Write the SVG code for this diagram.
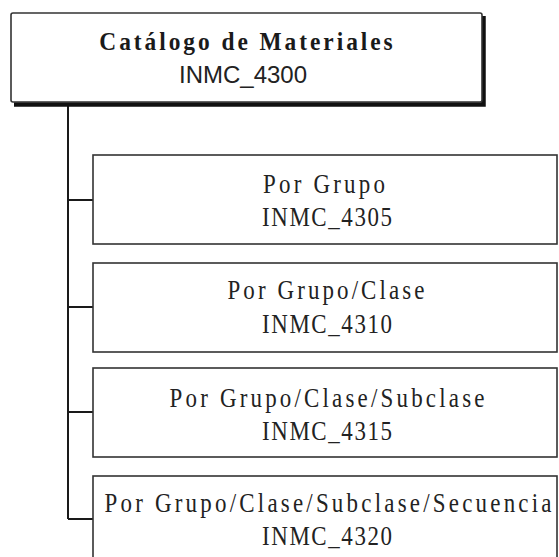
<svg xmlns="http://www.w3.org/2000/svg" width="559" height="557" viewBox="0 0 559 557">
<style>
.box{fill:#fff;stroke:#333;stroke-width:1.6}
.conn{fill:none;stroke:#1a1a1a;stroke-width:2}
.t{font-family:"Liberation Serif","Times New Roman",serif;font-size:27px;fill:#222;text-anchor:middle}
.title{font-family:"Liberation Serif","Times New Roman",serif;font-size:26px;font-weight:bold;fill:#1a1a1a;text-anchor:middle}
.code{font-family:"Liberation Sans",Arial,sans-serif;font-size:24px;fill:#222;text-anchor:middle}
</style>
<rect width="559" height="557" fill="#fff"/>
<g id="connectors">
<path class="conn" d="M68 104 V519"/>
<path class="conn" d="M68 200 H93 M68 307 H93 M68 412 H93 M68 519 H93"/>
</g>
<g id="root">
<path d="M14 104.5 H483.5 V16" fill="none" stroke="#111" stroke-width="4.5"/>
<rect class="box" x="11" y="13" width="471" height="89" rx="2" stroke="#222"/>
<g transform="translate(246,50) scale(0.9,1)"><text class="title" x="0" y="0" textLength="326" lengthAdjust="spacing">Catálogo de Materiales</text></g>
<text class="code" x="243" y="83">INMC_4300</text>
</g>
<g id="n4305">
<rect class="box" x="93" y="155" width="464" height="89"/>
<g transform="translate(324,193) scale(0.85,1)"><text class="t" x="0" y="0" textLength="143.5" lengthAdjust="spacing">Por Grupo</text></g>
<g transform="translate(327,226) scale(0.85,1)"><text class="t" x="0" y="0" textLength="153" lengthAdjust="spacing">INMC_4305</text></g>
</g>
<g id="n4310">
<rect class="box" x="93" y="263" width="464" height="89"/>
<g transform="translate(326,299) scale(0.85,1)"><text class="t" x="0" y="0" textLength="231.8" lengthAdjust="spacing">Por Grupo/Clase</text></g>
<g transform="translate(327,333) scale(0.85,1)"><text class="t" x="0" y="0" textLength="153" lengthAdjust="spacing">INMC_4310</text></g>
</g>
<g id="n4315">
<rect class="box" x="93" y="368" width="464" height="89"/>
<g transform="translate(327,407) scale(0.85,1)"><text class="t" x="0" y="0" textLength="370.6" lengthAdjust="spacing">Por Grupo/Clase/Subclase</text></g>
<g transform="translate(327,440) scale(0.85,1)"><text class="t" x="0" y="0" textLength="153" lengthAdjust="spacing">INMC_4315</text></g>
</g>
<g id="n4320">
<rect class="box" x="93" y="476" width="464" height="92"/>
<g transform="translate(328,512) scale(0.85,1)"><text class="t" x="0" y="0" textLength="525.9" lengthAdjust="spacing">Por Grupo/Clase/Subclase/Secuencia</text></g>
<g transform="translate(327,545) scale(0.85,1)"><text class="t" x="0" y="0" textLength="153" lengthAdjust="spacing">INMC_4320</text></g>
</g>
</svg>
